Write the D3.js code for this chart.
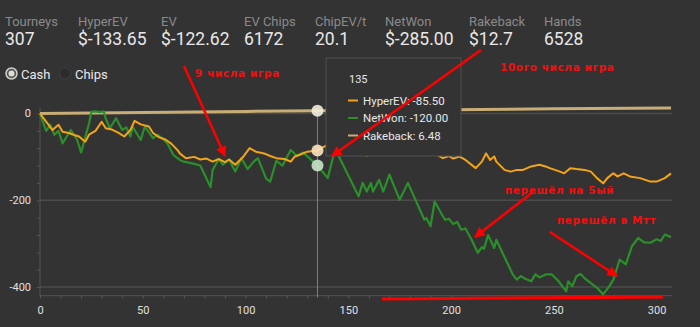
<!DOCTYPE html>
<html>
<head>
<meta charset="utf-8">
<script src="https://cdn.jsdelivr.net/npm/d3@7"></script>
<style>
  body { margin: 0; background: #333333; }
  svg { display: block; font-family: Roboto, "Open Sans", sans-serif; }
</style>
</head>
<body>
<svg id="chart" width="700" height="327"></svg>
<script>
// stat header
var statLabels = ["Tourneys", "HyperEV", "EV", "EV Chips", "ChipEV/t", "NetWon", "Rakeback", "Hands"];
var statValues = ["307", "$-133.65", "$-122.62", "6172", "20.1", "$-285.00", "$12.7", "6528"];

// axis ticks
var xTicks = [0, 50, 100, 150, 200, 250, 300];
var yTicks = [0, -200, -400];

// series, [tourney, value]
var netWon = [[0,0],[3,-40],[5,-26],[7,-49],[9,-40],[11,-69],[13,-53],[15,-38],[18,-60],[20,-90],[22,-55],[24,-20],[25,4],[27,5],[29,3],[31,5],
  [32,-12],[34,-34],[37,-11],[40,-38],[42,-32],[44,-53],[45,-30],[49,-61],[51,-30],[55,-57],[57,-49],[59,-55],[62,-69],[65,-96],[68,-107],
  [70,-111],[74,-115],[78,-120],[83,-170],[84,-130],[87,-105],[89,-118],[92,-106],[95,-134],[98,-103],[101,-128],[104,-111],[106,-103],
  [110,-150],[112,-157],[115,-109],[118,-120],[122,-84],[125,-98],[128,-90],[132,-107],[135,-120],[140,-149],[143,-93],[145,-95],
  [155,-191],[157,-160],[159,-180],[161,-160],[162,-180],[165,-153],[167,-180],[170,-141],[175,-199],[179,-160],[187,-245],[188,-241],
  [190,-260],[192,-203],[197,-245],[199,-243],[201,-255],[203,-250],[205,-268],[207,-265],[210,-291],[213,-321],[215,-308],[216,-312],
  [218,-280],[221,-310],[222,-291],[230,-371],[232,-383],[234,-375],[236,-381],[239,-387],[241,-371],[243,-378],[246,-371],[249,-371],
  [252,-385],[256,-410],[257,-387],[259,-398],[261,-375],[263,-370],[265,-380],[271,-402],[274,-417],[277,-398],[279,-383],[282,-337],
  [285,-348],[288,-306],[291,-287],[294,-297],[297,-298],[300,-290],[302,-294],[304,-279],[307,-285]];

var hyperEV = [[0,0],[4,-25],[6,-38],[9,-26],[11,-42],[14,-45],[17,-50],[19,-53],[22,-65],[24,-48],[27,-40],[30,-19],[32,-34],[35,-37],
  [38,-44],[41,-53],[44,-38],[46,-17],[49,-25],[53,-30],[55,-45],[58,-55],[61,-60],[64,-70],[67,-85],[68,-92],[71,-103],[75,-100],[78,-106],
  [81,-104],[84,-111],[87,-105],[90,-112],[92,-106],[95,-118],[99,-99],[102,-80],[105,-88],[109,-92],[112,-98],[115,-103],[119,-105],
  [122,-111],[124,-99],[127,-94],[130,-88],[135,-85.5],[140,-72],[145,-80],[150,-88],[155,-85],[159,-97],[165,-85],[170,-90],[176,-82],
  [182,-90],[188,-85],[192,-92],[196,-103],[199,-98],[201,-104],[204,-99],[207,-107],[212,-126],[215,-111],[217,-92],[219,-107],
  [221,-99],[222,-111],[226,-130],[229,-134],[232,-130],[235,-130],[239,-122],[243,-118],[246,-122],[248,-126],[253,-134],[255,-138],
  [258,-126],[261,-128],[265,-130],[268,-134],[271,-149],[274,-161],[276,-149],[278,-141],[279,-138],[281,-145],[284,-138],[287,-145],
  [292,-149],[297,-157],[300,-157],[304,-149],[307,-138]];

var rakeback = [[0,0],[50,2.4],[100,4.8],[135,6.48],[200,8.8],[250,10.8],[307,12.7]];

var hoverAt = 135;
var tipRows = [
  { name: "HyperEV", text: "HyperEV: -85.50", color: "#f2a51a" },
  { name: "NetWon", text: "NetWon: -120.00", color: "#2b8f2b" },
  { name: "Rakeback", text: "Rakeback: 6.48", color: "#c8ad76" }
];

var notes = [
  { text: "9 числа игра", x: 195, y: 77, from: [184, 66], to: [225, 156] },
  { text: "10ого числа игра", x: 500, y: 71, from: [481, 50], to: [332, 156] },
  { text: "перешёл на 5ый", x: 505, y: 194, from: [533, 192], to: [475, 237] },
  { text: "перешёл в Мтт", x: 557, y: 224, from: [550, 232], to: [617, 276] }
];

var svg = d3.select("#chart");

// header
var head = svg.append("g");
var statX = [5, 78, 161, 244, 315, 385, 469, 544];
statLabels.forEach(function(l, i) {
  head.append("text").attr("x", statX[i]).attr("y", 26).attr("fill", "#8a8a8a").attr("font-size", 13).text(l);
  head.append("text").attr("x", statX[i]).attr("y", 45).attr("fill", "#e8e8e8").attr("font-size", 17.5).text(statValues[i]);
});

// radio buttons
svg.append("circle").attr("cx", 11.5).attr("cy", 73.5).attr("r", 5.5).attr("fill", "#555").attr("stroke", "#cfcfcf").attr("stroke-width", 1.5);
svg.append("circle").attr("cx", 11.5).attr("cy", 73.5).attr("r", 3).attr("fill", "#e2ddd2");
svg.append("text").attr("x", 21).attr("y", 78.5).attr("fill", "#e8e8e8").attr("font-size", 13).text("Cash");
svg.append("circle").attr("cx", 65).attr("cy", 73.5).attr("r", 5.5).attr("fill", "#2b2b2b").attr("stroke", "#3e3e3e").attr("stroke-width", 1.2);
svg.append("text").attr("x", 75).attr("y", 78.5).attr("fill", "#e8e8e8").attr("font-size", 13).text("Chips");

// scales
var x = d3.scaleLinear().domain([0, 307]).range([40, 671]);
var y = d3.scaleLinear().domain([-400, 0]).range([287, 113.5]);
var yBottom = y(-420), yTop = y(13);

// gridlines
svg.append("g").selectAll("line").data(yTicks).enter().append("line")
  .attr("x1", 40).attr("x2", 672).attr("y1", function(d) { return y(d); }).attr("y2", function(d) { return y(d); })
  .attr("stroke", "#4c4c4c").attr("stroke-width", 1.5);

// x axis
var xAxis = svg.append("g").attr("transform", "translate(0," + yBottom + ")")
  .call(d3.axisBottom(x).tickValues(d3.range(0, 310, 10)).tickSize(3).tickFormat(function(d) { return xTicks.indexOf(d) >= 0 ? d : ""; }));
xAxis.select(".domain").attr("stroke", "#555").attr("d", "M40,0H672");
xAxis.selectAll(".tick line").attr("stroke", "#555");
xAxis.selectAll("text").attr("fill", "#e0e0e0").attr("font-size", 11).attr("font-family", "Roboto").attr("dy", "1em").attr("y", 7);

// y axis
var yAxis = svg.append("g").attr("transform", "translate(40,0)")
  .call(d3.axisLeft(y).tickValues(d3.range(-400, 1, 40)).tickSize(3).tickFormat(function() { return ""; }));
yAxis.select(".domain").attr("stroke", "#555").attr("d", "M0," + yTop + "V" + yBottom);
yAxis.selectAll(".tick line").attr("stroke", "#555");
svg.append("g").selectAll("text").data(yTicks).enter().append("text")
  .attr("x", 31).attr("y", function(d) { return y(d); }).attr("dy", "0.35em")
  .attr("text-anchor", "end").attr("fill", "#e0e0e0").attr("font-size", 11).text(function(d) { return d; });

// lines
var line = d3.line().x(function(d) { return x(d[0]); }).y(function(d) { return y(d[1]); });
svg.append("path").datum(rakeback).attr("d", line).attr("fill", "none").attr("stroke", "#c8ad76").attr("stroke-width", 3);
svg.append("path").datum(netWon).attr("d", line).attr("fill", "none").attr("stroke", "#2b8f2b").attr("stroke-width", 2.2).attr("stroke-linejoin", "round");
svg.append("path").datum(hyperEV).attr("d", line).attr("fill", "none").attr("stroke", "#f2a51a").attr("stroke-width", 2).attr("stroke-linejoin", "round");

// crosshair + markers
svg.append("line").attr("x1", x(hoverAt)).attr("x2", x(hoverAt)).attr("y1", yTop).attr("y2", yBottom + 2)
  .attr("stroke", "#c050c0").attr("stroke-width", 1);
var markerVals = [[6.48, "#f2eddc"], [-85.5, "#fbe3bf"], [-120, "#c9e3c9"]];
markerVals.forEach(function(m) {
  svg.append("circle").attr("cx", x(hoverAt)).attr("cy", y(m[0])).attr("r", 6).attr("fill", m[1]).attr("opacity", 0.9);
});

// tooltip
var tip = svg.append("g").attr("transform", "translate(326,58)");
tip.append("rect").attr("width", 135).attr("height", 98).attr("fill", "#333").attr("stroke", "#505050");
tip.append("text").attr("x", 23).attr("y", 25).attr("fill", "#e8e8e8").attr("font-size", 11).text(hoverAt);
tipRows.forEach(function(r, i) {
  var ty = 42.5 + i * 17.5;
  tip.append("line").attr("x1", 22).attr("x2", 32).attr("y1", ty).attr("y2", ty).attr("stroke", r.color).attr("stroke-width", 2);
  tip.append("text").attr("x", 37).attr("y", ty + 4).attr("fill", "#e8e8e8").attr("font-size", 11.5).text(r.text);
});

// red annotations
svg.append("defs").append("marker").attr("id", "arrow").attr("viewBox", "0 0 10 10").attr("refX", 9).attr("refY", 5)
  .attr("markerWidth", 5).attr("markerHeight", 4.2).attr("orient", "auto").attr("markerUnits", "strokeWidth")
  .append("path").attr("d", "M0,0L10,5L0,10z").attr("fill", "#f00");
notes.forEach(function(n) {
  svg.append("line").attr("x1", n.from[0]).attr("y1", n.from[1]).attr("x2", n.to[0]).attr("y2", n.to[1])
    .attr("stroke", "#f00").attr("stroke-width", 2.5).attr("marker-end", "url(#arrow)");
  svg.append("text").attr("x", n.x).attr("y", n.y).attr("fill", "#f01010").attr("font-family", "DejaVu Sans")
    .attr("font-weight", "bold").attr("font-size", 10.5).attr("letter-spacing", 0.6).text(n.text);
});
svg.append("line").attr("x1", 382).attr("y1", 299).attr("x2", 663).attr("y2", 297).attr("stroke", "#f00").attr("stroke-width", 3);
</script>
</body>
</html>
